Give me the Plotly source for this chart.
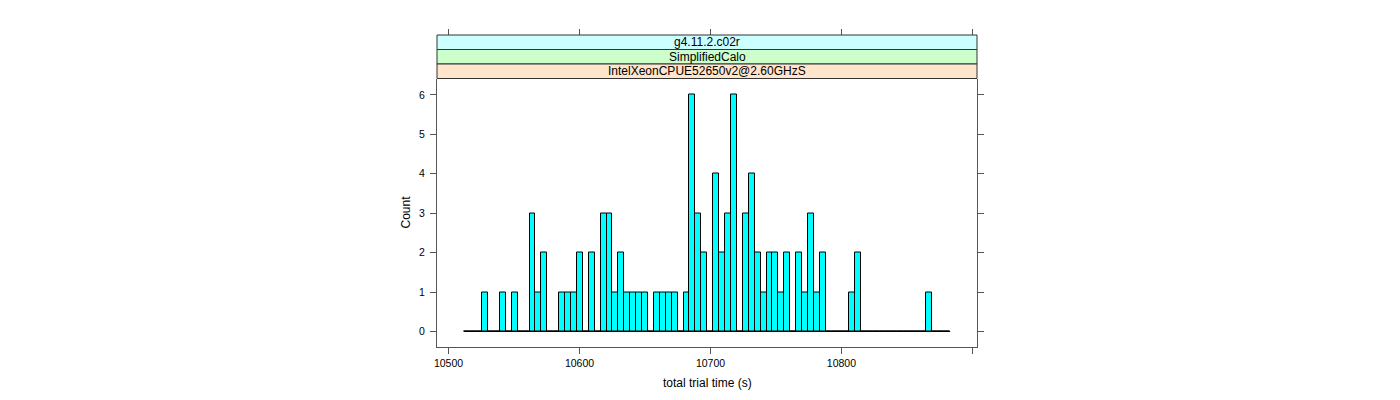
import plotly.graph_objects as go

# histogram bins (82 equal bins)
bin_start = 10512.06
bin_width = 4.524
counts = [0, 0, 0, 1, 0, 0, 1, 0, 1, 0,
          0, 3, 1, 2, 0, 0, 1, 1, 1, 2,
          0, 2, 0, 3, 3, 1, 2, 1, 1, 1,
          1, 0, 1, 1, 1, 1, 0, 1, 6, 3,
          2, 0, 4, 2, 3, 6, 0, 3, 4, 2,
          1, 2, 2, 1, 2, 0, 2, 1, 3, 1,
          2, 0, 0, 0, 0, 1, 2, 0, 0, 0,
          0, 0, 0, 0, 0, 0, 0, 0, 1, 0,
          0, 0]

x_ticks = [10500, 10600, 10700, 10800, 10900]
x_tick_labels = ["10500", "10600", "10700", "10800", ""]
y_ticks = [0, 1, 2, 3, 4, 5, 6]

strips = ["g4.11.2.c02r", "SimplifiedCalo", "IntelXeonCPUE52650v2@2.60GHzS"]
strip_colors = ["#ccffff", "#ccffcc", "#ffe5cc"]

x_range = [10491.2, 10903.5]
y_range = [-0.393, 6.417]

centers = [bin_start + bin_width * (i + 0.5) for i in range(len(counts))]
bin_end = bin_start + bin_width * len(counts)

FONT = "Liberation Sans, Arial, Helvetica, sans-serif"
AX = "#555555"

fig = go.Figure()

# zero-count bins show up as a flat line in lattice
fig.add_trace(go.Scatter(x=[bin_start, bin_end], y=[0, 0], mode="lines",
                         line=dict(color="black", width=1),
                         hoverinfo="skip", showlegend=False))
fig.add_trace(go.Bar(x=centers, y=counts, width=bin_width,
                     marker=dict(color="#00ffff", line=dict(color="black", width=1)),
                     showlegend=False))
# dummy trace so the top tick axis gets drawn
fig.add_trace(go.Scatter(x=[bin_start], y=[0], xaxis="x2", mode="markers",
                         marker=dict(opacity=0), hoverinfo="skip", showlegend=False))

# page body has an 8px margin, so the figure is shrunk by that much
panel_top = (347 - 78.5) / 312
fig.update_layout(
    width=1392, height=392,
    margin=dict(l=429, r=423, t=27, b=53, pad=0),
    plot_bgcolor="white", paper_bgcolor="white",
    font=dict(family=FONT, size=10.5, color="black"),
    bargap=0,
    xaxis=dict(range=x_range, tickvals=x_ticks, ticktext=x_tick_labels,
               ticks="outside", ticklen=6, tickwidth=1, tickcolor=AX,
               showline=True, linecolor=AX, linewidth=1, mirror=False,
               showgrid=False, zeroline=False, anchor="y",
               tickfont=dict(size=10.5, color="black")),
    xaxis2=dict(range=x_range, tickvals=x_ticks, overlaying="x", side="top",
                anchor="free", position=1, ticks="outside", ticklen=6,
                tickwidth=1, tickcolor=AX, showticklabels=False,
                showline=False, showgrid=False, zeroline=False),
    yaxis=dict(range=y_range, tickvals=y_ticks, domain=[0, panel_top],
               ticks="outside", ticklen=6, tickwidth=1, tickcolor=AX,
               showline=True, linecolor=AX, linewidth=1, mirror="ticks",
               showgrid=False, zeroline=False, ticklabelstandoff=3,
               tickfont=dict(size=10.5, color="black")),
)

# strips above the panel, outermost level on top
edges = [1.0, (347 - 49.5) / 312, (347 - 64) / 312, panel_top]
for i, (label, col) in enumerate(zip(strips, strip_colors)):
    fig.add_shape(type="rect", xref="paper", yref="paper",
                  x0=0, x1=1, y0=edges[i + 1], y1=edges[i],
                  fillcolor=col, line=dict(color="#333333", width=1), layer="above")
    fig.add_annotation(text=label, xref="paper", yref="paper",
                       x=0.5, y=(edges[i] + edges[i + 1]) / 2,
                       xanchor="center", yanchor="middle",
                       showarrow=False, font=dict(size=12, family=FONT))

fig.add_annotation(text="total trial time (s)", xref="paper", yref="paper",
                   x=0.5, y=(347 - 383) / 312, xanchor="center", yanchor="middle",
                   showarrow=False, font=dict(size=12, family=FONT))
fig.add_annotation(text="Count", xref="paper", yref="paper",
                   x=(405 - 437) / 540, y=(347 - 212.5) / 312, textangle=-90,
                   xanchor="center", yanchor="middle",
                   showarrow=False, font=dict(size=12, family=FONT))

fig.write_html("out.html")
